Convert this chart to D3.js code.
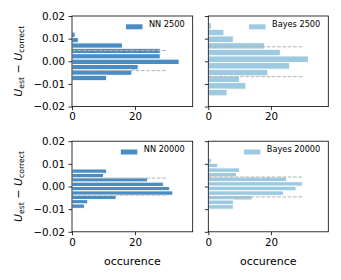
<!DOCTYPE html>
<html><head><meta charset="utf-8">
<script src="https://cdn.jsdelivr.net/npm/d3@7"></script>
<style>body{margin:0;background:#fff}svg{display:block}text{font-family:"DejaVu Sans",sans-serif}</style>
</head><body><svg id="c" width="341" height="280"></svg>
<script>
// ---- data ----
const panelLabels = ["NN 2500", "Bayes 2500", "NN 20000", "Bayes 20000"];
const nn2500Edges = [0.0129, 0.01051, 0.00813, 0.00574, 0.00336, 0.00097, -0.00141, -0.0038, -0.00618, -0.00857];
const nn2500Counts = [1, 2, 16, 28, 28, 34, 21, 19, 11];
const bayes2500Edges = [0.01707, 0.01413, 0.01119, 0.00825, 0.00531, 0.00237, -0.00057, -0.00351, -0.00645, -0.00939, -0.01233, -0.01527];
const bayes2500Counts = [1, 5, 8, 18, 23, 32, 26, 19, 10, 12, 6];
const nn20000Edges = [0.00773, 0.0058, 0.00387, 0.00194, 0.00001, -0.00192, -0.00385, -0.00578, -0.00771, -0.00964];
const nn20000Counts = [11, 10, 24, 29, 31, 32, 14, 5, 4];
const bayes20000Edges = [0.0123, 0.01027, 0.00824, 0.00621, 0.00418, 0.00215, 0.00012, -0.00191, -0.00394, -0.00597, -0.008, -0.01003];
const bayes20000Counts = [1, 3, 10, 9, 25, 30, 28, 24, 14, 8, 8];
const nn2500Lines = [0.00476, -0.00413];
const bayes2500Lines = [0.0064, -0.0068];
const nn20000Lines = [0.0037, -0.0038];
const bayes20000Lines = [0.0042, -0.0046];
const lineExtent = [0, 30];
const yTicks = [-0.02, -0.01, 0, 0.01, 0.02];
const xTicks = [0, 20];
const yDomain = [-0.02, 0.02];
const xDomain = [0, 38.3];
const xLabel = "occurence";

const panels = [
  {label: panelLabels[0], edges: nn2500Edges, counts: nn2500Counts, lines: nn2500Lines, color: "#4a8cc4", col: 0, row: 0},
  {label: panelLabels[1], edges: bayes2500Edges, counts: bayes2500Counts, lines: bayes2500Lines, color: "#9ecae1", col: 1, row: 0},
  {label: panelLabels[2], edges: nn20000Edges, counts: nn20000Counts, lines: nn20000Lines, color: "#4a8cc4", col: 0, row: 1},
  {label: panelLabels[3], edges: bayes20000Edges, counts: bayes20000Counts, lines: bayes20000Lines, color: "#9ecae1", col: 1, row: 1},
];

// ---- layout ----
const colX = [[72, 192.7], [208.3, 328.3]];
const rowY = [[16, 106.6], [141.2, 231.8]];
const svg = d3.select("#c");

panels.forEach(p => {
  const [x0, x1] = colX[p.col], [y0, y1] = rowY[p.row];
  const x = d3.scaleLinear().domain(xDomain).range([x0, x1]);
  const y = d3.scaleLinear().domain(yDomain).range([y1, y0]);
  const g = svg.append("g");
  const bins = p.counts.map((c, i) => ({c, top: p.edges[i], bot: p.edges[i + 1]}));
  g.selectAll("rect.bar").data(bins).join("rect")
    .attr("x", x(0)).attr("y", d => y(d.top))
    .attr("width", d => x(d.c) - x(0)).attr("height", d => y(d.bot) - y(d.top))
    .attr("fill", p.color).attr("stroke", "#fff").attr("stroke-width", 1);
  g.selectAll("line.dash").data(p.lines).join("line")
    .attr("x1", x(lineExtent[0])).attr("x2", x(lineExtent[1]))
    .attr("y1", d => y(d)).attr("y2", d => y(d))
    .attr("stroke", "#b4b4b4").attr("stroke-width", 1).attr("stroke-dasharray", "3.7,1.6");
  // frame
  g.append("rect").attr("x", x0).attr("y", y0).attr("width", x1 - x0).attr("height", y1 - y0)
    .attr("fill", "none").attr("stroke", "#000").attr("stroke-width", 0.8);
  // axes
  const ya = d3.axisLeft(y).tickValues(yTicks).tickSize(3.5).tickPadding(3.5)
    .tickFormat(p.col === 0 ? d3.format(".2f") : () => "");
  const yg = g.append("g").attr("transform", `translate(${x0},0)`).call(ya);
  const xa = d3.axisBottom(x).tickValues(xTicks).tickSize(3.5).tickPadding(3).tickFormat(d3.format("d"));
  const xg = g.append("g").attr("transform", `translate(0,${y1})`).call(xa);
  [yg, xg].forEach(a => {
    a.select(".domain").remove();
    a.selectAll(".tick line").attr("stroke", "#000").attr("stroke-width", 0.8);
    a.selectAll(".tick text").attr("font-size", 10.3).attr("fill", "#000").attr("font-family", "DejaVu Sans");
  });
  // legend
  const lg = g.append("g");
  lg.append("text").attr("x", x1 - 8).attr("y", y0 + 11).attr("text-anchor", "end")
    .attr("font-size", 8.2).attr("fill", "#000").text(p.label);
  const tw = lg.select("text").node().getComputedTextLength();
  lg.append("rect").attr("x", x1 - 8 - tw - 6.5 - 16.5).attr("y", y0 + 8.3).attr("width", 16.5).attr("height", 5)
    .attr("fill", p.color);
  if (p.row === 1) {
    g.append("text").attr("x", (x0 + x1) / 2).attr("y", 264.5).attr("text-anchor", "middle")
      .attr("font-size", 11).attr("fill", "#000").text(xLabel);
  }
  if (p.col === 0) {
    const cy = (y0 + y1) / 2;
    const t = g.append("text").attr("transform", `translate(22,${cy}) rotate(-90)`)
      .attr("text-anchor", "middle").attr("font-size", 11).attr("fill", "#000");
    t.append("tspan").attr("font-style", "italic").text("U");
    t.append("tspan").attr("font-size", 7.7).attr("dy", 2.2).text("est");
    t.append("tspan").attr("dy", -2.2).text(" − ");
    t.append("tspan").attr("font-style", "italic").text("U");
    t.append("tspan").attr("font-size", 7.7).attr("dy", 2.2).text("correct");
  }
});
</script></body></html>
